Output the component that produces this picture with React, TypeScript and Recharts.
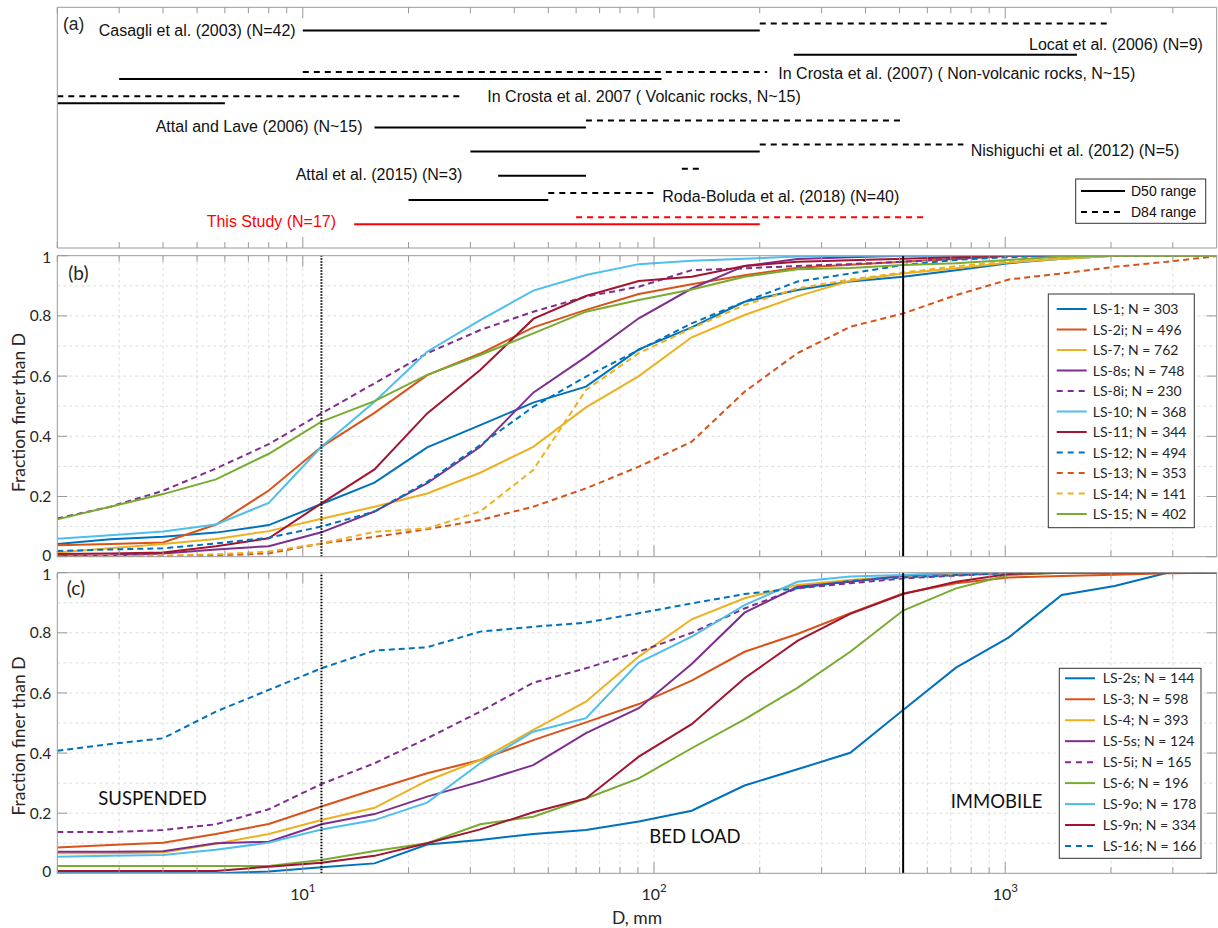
import React from 'react'
import { LineChart, Line, XAxis, YAxis, CartesianGrid, ReferenceLine } from 'recharts'

// sieve sizes in mm (half-phi steps)
const SIZES = [2, 2.83, 4, 5.66, 8, 11.3, 16, 22.6, 32, 45.3, 64, 90.5, 128, 181, 256, 362, 512, 724, 1024, 1448, 2048, 2896, 4096]

const LOG_TICKS = [2, 3, 4, 5, 6, 7, 8, 9, 10, 20, 30, 40, 50, 60, 70, 80, 90, 100, 200, 300, 400, 500, 600, 700, 800, 900, 1000, 2000, 3000]
const FRACTION_TICKS = [0, 0.2, 0.4, 0.6, 0.8, 1]
const FRACTION_GRID = [0.1, 0.2, 0.3, 0.4, 0.5, 0.6, 0.7, 0.8, 0.9]

const SUSPENDED_LIMIT = 11.3
const IMMOBILE_LIMIT = 512

// ---- panel (a): literature D50 / D84 ranges
const STUDIES = [
  'Casagli et al. (2003) (N=42)',
  'Locat et al. (2006) (N=9)',
  'In Crosta et al. (2007) ( Non-volcanic rocks, N~15)',
  'In Crosta et al. 2007 ( Volcanic rocks, N~15)',
  'Attal and Lave (2006) (N~15)',
  'Nishiguchi et al. (2012) (N=5)',
  'Attal et al. (2015) (N=3)',
  'Roda-Boluda et al. (2018) (N=40)',
  'This Study (N=17)',
]
const D50_MIN = [10, 250, 3, 2, 16, 30, 36, 20, 14]
const D50_MAX = [200, 1600, 105, 6, 64, 200, 64, 50, 200]
const D84_MIN = [200, null, 10, 2, 64, 200, 120, 50, 60]
const D84_MAX = [2000, null, 210, 28, 512, 760, 136, 100, 600]

// ---- panel (b)
const LS_1 = [0.042, 0.058, 0.066, 0.08, 0.105, 0.175, 0.246, 0.363, 0.437, 0.512, 0.565, 0.689, 0.762, 0.847, 0.886, 0.914, 0.93, 0.952, 0.975, 0.99, 1, 1, 1]
const LS_2I = [0.038, 0.042, 0.047, 0.107, 0.22, 0.365, 0.478, 0.603, 0.675, 0.762, 0.82, 0.873, 0.905, 0.935, 0.96, 0.97, 0.98, 0.99, 1, 1, 1, 1, 1]
const LS_7 = [0.014, 0.028, 0.042, 0.059, 0.085, 0.126, 0.166, 0.21, 0.279, 0.365, 0.496, 0.6, 0.729, 0.803, 0.865, 0.917, 0.941, 0.958, 0.977, 0.99, 1, 1, 1]
const LS_8S = [0.002, 0.004, 0.011, 0.024, 0.035, 0.081, 0.15, 0.244, 0.365, 0.545, 0.664, 0.792, 0.891, 0.966, 0.989, 0.995, 1, 1, 1, 1, 1, 1, 1]
const LS_8I = [0.127, 0.166, 0.219, 0.293, 0.374, 0.476, 0.576, 0.676, 0.753, 0.814, 0.864, 0.897, 0.952, 0.958, 0.966, 0.972, 0.98, 0.99, 1, 1, 1, 1, 1]
const LS_10 = [0.06, 0.071, 0.084, 0.107, 0.179, 0.365, 0.515, 0.681, 0.786, 0.884, 0.936, 0.972, 0.983, 0.99, 0.997, 1, 1, 1, 1, 1, 1, 1, 1]
const LS_11 = [0.009, 0.011, 0.014, 0.035, 0.061, 0.177, 0.29, 0.476, 0.62, 0.79, 0.866, 0.916, 0.93, 0.966, 0.98, 0.985, 0.99, 0.995, 1, 1, 1, 1, 1]
const LS_12 = [0.019, 0.024, 0.028, 0.044, 0.063, 0.1, 0.15, 0.249, 0.371, 0.498, 0.598, 0.687, 0.775, 0.847, 0.914, 0.941, 0.969, 0.986, 0.995, 1, 1, 1, 1]
const LS_13 = [0, 0, 0.002, 0.004, 0.011, 0.044, 0.066, 0.091, 0.122, 0.166, 0.227, 0.299, 0.382, 0.548, 0.676, 0.764, 0.808, 0.869, 0.921, 0.941, 0.963, 0.98, 1]
const LS_14 = [0, 0.002, 0.004, 0.008, 0.017, 0.044, 0.083, 0.094, 0.15, 0.288, 0.554, 0.676, 0.759, 0.836, 0.891, 0.921, 0.944, 0.965, 0.98, 0.99, 1, 1, 1]
const LS_15 = [0.124, 0.166, 0.208, 0.257, 0.342, 0.449, 0.517, 0.604, 0.67, 0.742, 0.814, 0.853, 0.888, 0.93, 0.955, 0.959, 0.969, 0.975, 0.986, 0.997, 1, 1, 1]

const B_NAMES = ['LS-1', 'LS-2i', 'LS-7', 'LS-8s', 'LS-8i', 'LS-10', 'LS-11', 'LS-12', 'LS-13', 'LS-14', 'LS-15']
const B_COUNTS = [303, 496, 762, 748, 230, 368, 344, 494, 353, 141, 402]
const B_VALUES = [LS_1, LS_2I, LS_7, LS_8S, LS_8I, LS_10, LS_11, LS_12, LS_13, LS_14, LS_15]

// ---- panel (c)
const LS_2S = [0, 0, 0, 0, 0.006, 0.02, 0.033, 0.096, 0.111, 0.131, 0.144, 0.172, 0.208, 0.292, 0.346, 0.401, 0.543, 0.684, 0.785, 0.926, 0.956, 1, 1]
const LS_3 = [0.086, 0.094, 0.102, 0.131, 0.164, 0.222, 0.279, 0.333, 0.377, 0.443, 0.502, 0.563, 0.641, 0.737, 0.796, 0.865, 0.931, 0.965, 0.984, 0.989, 0.993, 0.998, 1]
const LS_4 = [0.067, 0.067, 0.069, 0.098, 0.131, 0.177, 0.218, 0.308, 0.377, 0.477, 0.571, 0.721, 0.845, 0.915, 0.959, 0.976, 0.989, 0.995, 1, 1, 1, 1, 1]
const LS_5S = [0.072, 0.072, 0.073, 0.1, 0.105, 0.163, 0.197, 0.255, 0.305, 0.36, 0.466, 0.549, 0.696, 0.867, 0.953, 0.97, 0.99, 1, 1, 1, 1, 1, 1]
const LS_5I = [0.137, 0.137, 0.144, 0.163, 0.213, 0.297, 0.366, 0.449, 0.538, 0.634, 0.682, 0.737, 0.8, 0.881, 0.948, 0.965, 0.981, 0.99, 1, 1, 1, 1, 1]
const LS_6 = [0.024, 0.024, 0.024, 0.024, 0.024, 0.044, 0.074, 0.1, 0.163, 0.188, 0.249, 0.316, 0.416, 0.512, 0.617, 0.737, 0.874, 0.948, 0.992, 1, 1, 1, 1]
const LS_9O = [0.055, 0.058, 0.061, 0.078, 0.102, 0.146, 0.177, 0.235, 0.366, 0.471, 0.516, 0.701, 0.787, 0.892, 0.97, 0.987, 0.992, 1, 1, 1, 1, 1, 1]
const LS_9N = [0.008, 0.008, 0.008, 0.008, 0.022, 0.035, 0.058, 0.1, 0.146, 0.203, 0.249, 0.388, 0.496, 0.649, 0.773, 0.863, 0.929, 0.97, 0.996, 1, 1, 1, 1]
const LS_16 = [0.408, 0.43, 0.449, 0.538, 0.61, 0.682, 0.741, 0.752, 0.804, 0.82, 0.834, 0.865, 0.898, 0.929, 0.948, 0.973, 0.984, 0.992, 0.998, 1, 1, 1, 1]

const C_NAMES = ['LS-2s', 'LS-3', 'LS-4', 'LS-5s', 'LS-5i', 'LS-6', 'LS-9o', 'LS-9n', 'LS-16']
const C_COUNTS = [144, 598, 393, 124, 165, 196, 178, 334, 166]
const C_VALUES = [LS_2S, LS_3, LS_4, LS_5S, LS_5I, LS_6, LS_9O, LS_9N, LS_16]

// ---- styles
const BLUE = '#0072BD'
const ORANGE = '#D95319'
const YELLOW = '#EDB120'
const PURPLE = '#7E2F8E'
const GREEN = '#77AC30'
const CYAN = '#4DBEEE'
const DARKRED = '#A2142F'
const AXIS = '#999999'
const INK = '#262626'
const DASH = '6 4'

type Style = { color: string; dashed: boolean }
const B_STYLE: Style[] = [
  { color: BLUE, dashed: false }, { color: ORANGE, dashed: false }, { color: YELLOW, dashed: false },
  { color: PURPLE, dashed: false }, { color: PURPLE, dashed: true }, { color: CYAN, dashed: false },
  { color: DARKRED, dashed: false }, { color: BLUE, dashed: true }, { color: ORANGE, dashed: true },
  { color: YELLOW, dashed: true }, { color: GREEN, dashed: false },
]
const C_STYLE: Style[] = [
  { color: BLUE, dashed: false }, { color: ORANGE, dashed: false }, { color: YELLOW, dashed: false },
  { color: PURPLE, dashed: false }, { color: PURPLE, dashed: true }, { color: GREEN, dashed: false },
  { color: CYAN, dashed: false }, { color: DARKRED, dashed: false }, { color: BLUE, dashed: true },
]

const LATO = 'Lato, "Noto Sans", sans-serif'
const ARIAL = '"Liberation Sans", Arial, sans-serif'
const isDecade = (v: number) => v === 10 || v === 100 || v === 1000

function xTick(side: 'top' | 'bottom', labels: boolean) {
  return (p: any) => {
    const v = p.payload.value
    const len = isDecade(v) ? 11 : 6
    const dir = side === 'top' ? 1 : -1
    return (
      <g>
        <line x1={p.x} x2={p.x} y1={p.y} y2={p.y + dir * len} stroke={AXIS} />
        {labels && isDecade(v) && (
          <text x={p.x} y={p.y + 27} textAnchor="middle" fontSize={16} fill={INK} fontFamily={LATO}>
            10<tspan dy={-8} fontSize={11.5}>{Math.round(Math.log10(v))}</tspan>
          </text>
        )}
      </g>
    )
  }
}

function yTick(side: 'left' | 'right', labels: boolean) {
  return (p: any) => {
    const dir = side === 'left' ? 1 : -1
    const v = p.payload.value
    // end labels sit slightly inside, as in the figure, so neighbouring panels don't collide
    const nudge = v === 0 ? -1.7 : v === 1 ? 1.5 : 0
    return (
      <g>
        <line x1={p.x} x2={p.x + dir * 10} y1={p.y} y2={p.y} stroke={AXIS} />
        {labels && (
          <text x={p.x - 6} y={p.y + nudge} dy="0.36em" textAnchor="end" fontSize={15.5} fill={INK} fontFamily={LATO}>
            {String(v)}
          </text>
        )}
      </g>
    )
  }
}

const LOG_DOMAIN: [number, number] = [2, 4000]

// axes get a 1px band (a zero-sized axis is not drawn); margins account for it
function logAxes(bottomLabels: boolean) {
  return [
    <XAxis key="xb" dataKey="d" type="number" scale="log" domain={LOG_DOMAIN} allowDataOverflow
      ticks={LOG_TICKS} interval={0} height={1} tickSize={0} tickMargin={0} tickLine={false}
      axisLine={{ stroke: AXIS }} tick={xTick('bottom', bottomLabels)} />,
    <XAxis key="xt" xAxisId="top" orientation="top" dataKey="d" type="number" scale="log" domain={LOG_DOMAIN}
      allowDataOverflow ticks={LOG_TICKS} interval={0} height={1} tickSize={0} tickMargin={0} tickLine={false}
      axisLine={{ stroke: AXIS }} tick={xTick('top', false)} />,
  ]
}

function StudyRanges() {
  const segs: any[] = []
  STUDIES.forEach((s, i) => {
    const color = i === STUDIES.length - 1 ? '#FF0000' : '#000000'
    segs.push(
      <Line key={'d50' + i} data={[{ d: D50_MIN[i], row: i }, { d: D50_MAX[i], row: i }]} dataKey="row"
        stroke={color} strokeWidth={2} dot={false} isAnimationActive={false} />
    )
    const lo = D84_MIN[i]
    const hi = D84_MAX[i]
    if (lo != null && hi != null) {
      segs.push(
        <Line key={'d84' + i} data={[{ d: lo, row: i - 0.29 }, { d: hi, row: i - 0.29 }]} dataKey="row"
          stroke={color} strokeWidth={2} strokeDasharray="6 5" dot={false} isAnimationActive={false} />
      )
    }
  })
  return (
    <div style={{ position: 'absolute', left: 0, top: 0 }}>
      <LineChart width={1218} height={252} margin={{ top: 6.3, right: 0.3, bottom: 3, left: 56.3 }}>
        {logAxes(false)}
        <YAxis type="number" domain={[-0.96, 8.98]} reversed allowDataOverflow width={1} tick={false}
          tickLine={false} axisLine={{ stroke: AXIS }} />
        <YAxis yAxisId="right" orientation="right" type="number" domain={[-0.96, 8.98]} reversed width={1}
          allowDataOverflow tick={false} tickLine={false} axisLine={{ stroke: AXIS }} />
        {segs}
      </LineChart>
    </div>
  )
}

function FractionPanel(props: { top: number; height: number; margin: any; names: string[]; values: number[][]; styles: Style[]; bottomLabels: boolean }) {
  const { top, height, margin, names, values, styles, bottomLabels } = props
  const rows = SIZES.map((d, k) => {
    const r: any = { d }
    names.forEach((n, i) => { r[n] = values[i][k] })
    return r
  })
  return (
    <div style={{ position: 'absolute', left: 0, top }}>
      <LineChart width={1218} height={height} data={rows} margin={margin}>
        <CartesianGrid stroke="#dddddd" strokeDasharray="3 3" horizontalValues={FRACTION_GRID}
          verticalValues={LOG_TICKS.slice(1)} />
        {logAxes(bottomLabels)}
        <YAxis type="number" domain={[0, 1]} allowDataOverflow ticks={FRACTION_TICKS} interval={0} width={1}
          tickSize={0} tickMargin={0} tickLine={false} axisLine={{ stroke: AXIS }} tick={yTick('left', true)} />
        <YAxis yAxisId="right" orientation="right" type="number" domain={[0, 1]} allowDataOverflow
          ticks={FRACTION_TICKS} interval={0} width={1} tickSize={0} tickMargin={0} tickLine={false}
          axisLine={{ stroke: AXIS }} tick={yTick('right', false)} />
        {names.map((n, i) => (
          <Line key={n} type="linear" dataKey={n} stroke={styles[i].color} strokeWidth={2}
            strokeDasharray={styles[i].dashed ? DASH : undefined} dot={false} isAnimationActive={false} />
        ))}
        <ReferenceLine x={SUSPENDED_LIMIT} stroke="#000" strokeWidth={2} strokeDasharray="1.5 1.5" />
        <ReferenceLine x={IMMOBILE_LIMIT} stroke="#000" strokeWidth={2} />
      </LineChart>
    </div>
  )
}

function SeriesLegend(props: { x: number; y: number; w: number; h: number; y0: number; gap: number; lx: number; tx: number; names: string[]; counts: number[]; styles: Style[] }) {
  const { x, y, w, h, y0, gap, lx, tx, names, counts, styles } = props
  return (
    <g>
      <rect x={x} y={y} width={w} height={h} fill="#fff" stroke="#333" strokeWidth={1} />
      {names.map((n, i) => {
        const cy = y0 + i * gap
        return (
          <g key={n}>
            <line x1={lx} x2={lx + 30} y1={cy} y2={cy} stroke={styles[i].color} strokeWidth={2}
              strokeDasharray={styles[i].dashed ? '6 5' : undefined} />
            <text x={tx} y={cy + 5} fontSize={14} fill={INK} fontFamily={LATO}>{`${n}; N = ${counts[i]}`}</text>
          </g>
        )
      })}
    </g>
  )
}

const STUDY_LABEL_X = [98.7, 1029, 778.3, 487.3, 155.7, 970.7, 295.7, 662.3, 206.7]
const STUDY_LABEL_Y = [36, 49.5, 78.5, 101.8, 132.4, 155.7, 180, 201.7, 226.7]

function Overlay() {
  return (
    <svg width={1218} height={928} style={{ position: 'absolute', left: 0, top: 0, pointerEvents: 'none' }}>
      {/* panel (a) */}
      <text x={63} y={30} fontSize={17.5} fill={INK} fontFamily={ARIAL}>(a)</text>
      {STUDIES.map((s, i) => (
        <text key={s} x={STUDY_LABEL_X[i]} y={STUDY_LABEL_Y[i]} fontSize={16} fontFamily={ARIAL}
          fill={i === STUDIES.length - 1 ? '#FF0000' : '#111'}>{s}</text>
      ))}
      <rect x={1075.7} y={179} width={130} height={44.3} fill="#fff" stroke="#333" />
      <line x1={1081} x2={1125} y1={191} y2={191} stroke="#000" strokeWidth={2} />
      <line x1={1081} x2={1125} y1={212} y2={212} stroke="#000" strokeWidth={2} strokeDasharray="6 5" />
      <text x={1131} y={196} fontSize={14} fill="#111" fontFamily={ARIAL}>D50 range</text>
      <text x={1131} y={217} fontSize={14} fill="#111" fontFamily={ARIAL}>D84 range</text>

      {/* panel (b) */}
      <text x={68.3} y={280} fontSize={19} fill={INK} fontFamily={LATO}>(b)</text>
      <text transform="translate(18.7,412.5) rotate(-90)" textAnchor="middle" dy="0.36em" fontSize={17.5}
        fill={INK} fontFamily={LATO}>Fraction finer than D</text>
      <SeriesLegend x={1048.3} y={294} w={146} h={233.7} y0={309} gap={20.5} lx={1056.7} tx={1092.7}
        names={B_NAMES} counts={B_COUNTS} styles={B_STYLE} />

      {/* panel (c) */}
      <text x={66.7} y={595} fontSize={19} fill={INK} fontFamily={LATO}>(c)</text>
      <text transform="translate(18.7,736) rotate(-90)" textAnchor="middle" dy="0.36em" fontSize={17.5}
        fill={INK} fontFamily={LATO}>Fraction finer than D</text>
      <text x={98.3} y={805} fontSize={18.5} fill="#111" fontFamily={LATO}>SUSPENDED</text>
      <text x={649.3} y={843} fontSize={18.5} fill="#111" fontFamily={LATO}>BED LOAD</text>
      <text x={950.7} y={808} fontSize={18.5} fill="#111" fontFamily={LATO}>IMMOBILE</text>
      <text x={637} y={924} textAnchor="middle" fontSize={17.5} fill={INK} fontFamily={LATO}>D, mm</text>
      <SeriesLegend x={1059.3} y={668.3} w={141.7} h={190} y0={678.3} gap={20.96} lx={1065} tx={1102.7}
        names={C_NAMES} counts={C_COUNTS} styles={C_STYLE} />
    </svg>
  )
}

export default function App() {
  return (
    <div style={{ position: 'absolute', left: 0, top: 0, width: 1218, height: 928, background: '#fff', fontFamily: LATO }}>
      <StudyRanges />
      <FractionPanel top={244} height={322} margin={{ top: 10.7, right: 0.3, bottom: 8.3, left: 56.3 }}
        names={B_NAMES} values={B_VALUES} styles={B_STYLE} bottomLabels={false} />
      <FractionPanel top={558} height={370} margin={{ top: 13.7, right: 0.3, bottom: 53.7, left: 56.3 }}
        names={C_NAMES} values={C_VALUES} styles={C_STYLE} bottomLabels={true} />
      <Overlay />
    </div>
  )
}
